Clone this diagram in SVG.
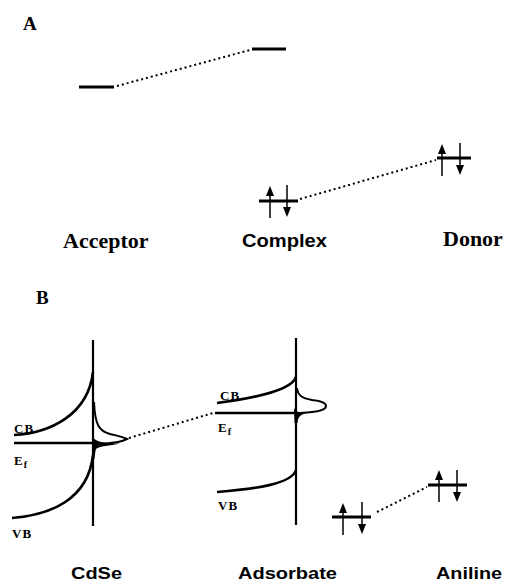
<svg xmlns="http://www.w3.org/2000/svg" width="507" height="585" viewBox="0 0 507 585">
<style>
.lvl{stroke:#000;stroke-width:3;fill:none}
.ln{stroke:#000;stroke-width:2.6;fill:none}
.ax{stroke:#000;stroke-width:2.2;fill:none}
.sh{stroke:#000;stroke-width:1.5;fill:none}
.dot{stroke:#000;stroke-width:2;stroke-dasharray:2 3;fill:none}
.hd{fill:#000}
.big{font-family:"Liberation Serif",serif;font-weight:bold;font-size:22px}
.sec{font-family:"Liberation Serif",serif;font-weight:bold;font-size:19px}
.lab{font-family:"Liberation Sans",sans-serif;font-weight:bold;font-size:19px}
.bot{font-family:"Liberation Sans",sans-serif;font-weight:bold;font-size:17px}
.sm{font-family:"Liberation Serif",serif;font-weight:bold;font-size:13px;letter-spacing:1px}
</style>
<defs>
<g id="up"><line class="sh" x1="0" y1="0" x2="0" y2="-24"/><polygon class="hd" points="0,-32 -4,-22 4,-22"/></g>
<g id="dn"><line class="sh" x1="0" y1="0" x2="0" y2="24"/><polygon class="hd" points="0,32 -4,22 4,22"/></g>
</defs>
<rect width="507" height="585" fill="#fff"/>

<text class="sec" x="23" y="30">A</text>
<text class="sec" x="36" y="304">B</text>

<g id="acceptor">
<line class="lvl" x1="79" y1="87" x2="114" y2="87"/>
<text class="big" x="63" y="248">Acceptor</text>
</g>

<g id="complex">
<line class="lvl" x1="252" y1="49" x2="286" y2="49"/>
<line class="lvl" x1="259" y1="201" x2="298" y2="201"/>
<use href="#up" x="270" y="218"/>
<use href="#dn" x="287" y="185"/>
<text class="lab" x="242" y="247" textLength="85" lengthAdjust="spacingAndGlyphs">Complex</text>
</g>

<g id="donor">
<line class="lvl" x1="437" y1="158" x2="471" y2="158"/>
<use href="#up" x="442" y="176"/>
<use href="#dn" x="460" y="143"/>
<text class="big" x="443" y="246">Donor</text>
</g>

<g id="cdse">
<line class="ax" x1="93" y1="340" x2="93" y2="526"/>
<path class="ln" d="M14,435 C50,433 88,415 93,372"/>
<line class="ln" x1="14" y1="443" x2="93" y2="443"/>
<path class="ln" d="M12,518 C50,515 88,500 93,455"/>
<path d="M94,402 C95,425 99,431 110,434 C119,436 123,437 127,439 C123,441 116,443 106,443.5 C98,444 95,443 94,443" fill="none" stroke="#000" stroke-width="2"/>
<path d="M92,436 C95,441 100,442.5 112,443.5 L120,443.5 C110,446 99,446 96,449 C95,452 95,456 94.5,459 L92,459 Z" fill="#000"/>
<text class="sm" x="14" y="433">CB</text>
<text class="sm" x="14" y="465">E<tspan font-size="10" dy="3">f</tspan></text>
<text class="sm" x="12" y="538">VB</text>
<text class="bot" x="71" y="579" textLength="51" lengthAdjust="spacingAndGlyphs">CdSe</text>
</g>

<g id="adsorbate">
<line class="ax" x1="296" y1="338" x2="296" y2="525"/>
<path class="ln" d="M217,403 C255,398 292,390 296,377"/>
<line class="ln" x1="215" y1="413" x2="296" y2="413"/>
<path class="ln" d="M217,492 C255,489 292,484 296,470"/>
<path d="M297,388 C298,396 302,398 312,400 C322,401 326,403 326,406 C326,409 321,411 312,412 C302,413 299,413 297,413" fill="none" stroke="#000" stroke-width="2"/>
<path d="M294,408 C296,412 300,413 306,413.5 C300,415 298,417 297.5,423 L294.5,423 Z" fill="#000"/>
<text class="sm" x="220" y="400">CB</text>
<text class="sm" x="218" y="432">E<tspan font-size="10" dy="3">f</tspan></text>
<text class="sm" x="218" y="510">VB</text>
<text class="bot" x="238" y="579" textLength="99" lengthAdjust="spacingAndGlyphs">Adsorbate</text>
</g>

<g id="aniline">
<line class="lvl" x1="332" y1="517" x2="371" y2="517"/>
<use href="#up" x="343" y="535"/>
<use href="#dn" x="362" y="502"/>
<line class="lvl" x1="428" y1="485" x2="467" y2="485"/>
<use href="#up" x="439" y="502"/>
<use href="#dn" x="457" y="470"/>
<text class="bot" x="436" y="579" textLength="66" lengthAdjust="spacingAndGlyphs">Aniline</text>
</g>

<g id="connectors">
<line class="dot" x1="117" y1="86" x2="250" y2="50"/>
<line class="dot" x1="300" y1="199" x2="436" y2="160"/>
<line class="dot" x1="129" y1="438" x2="213" y2="413"/>
<line class="dot" x1="377" y1="512" x2="427" y2="487"/>
</g>
</svg>
